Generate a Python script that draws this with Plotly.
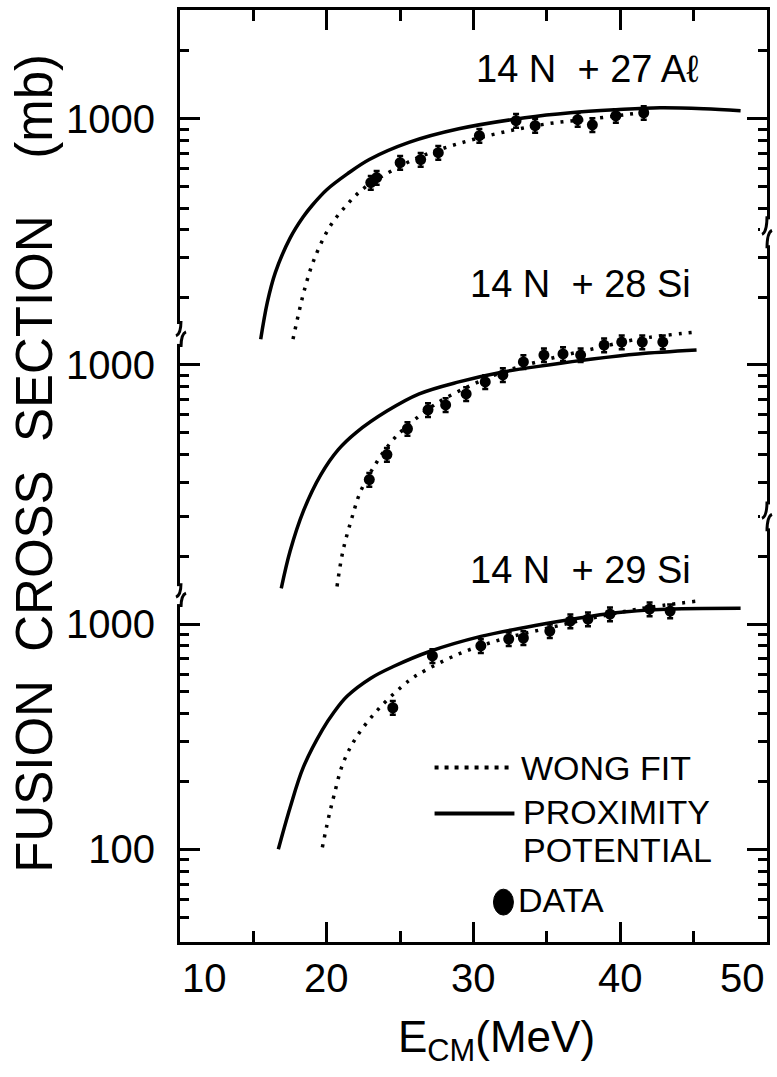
import plotly.graph_objects as go

# ---------------- data ----------------
# Each reaction is drawn on one shared log axis, shifted by a fixed number of decades
panel_labels = ["14 N  + 27 A\u2113", "14 N  + 28 Si", "14 N  + 29 Si"]
panel_offsets = [2.243, 1.150, 0.0]   # decades of vertical shift for each panel

# 14N + 27Al
al_prox_e = [15.5, 15.95, 16.5, 17.5, 18.4, 19.0, 20.0, 21.4, 22.9, 25.6, 29.0, 33.5, 36.6, 39.7, 42.7, 45.7, 48.2]
al_prox_s = [105, 153, 208, 295, 367, 412, 484, 569, 659, 785, 902, 1010, 1063, 1096, 1118, 1107, 1085]
al_wong_e = [17.7, 18.1, 18.5, 19.1, 20.2, 21.4, 22.5, 23.9, 26.3, 29.0, 32.0, 35.1, 38.1, 41.2, 42.0]
al_wong_s = [105, 138, 176, 234, 331, 417, 490, 562, 676, 776, 871, 951, 1000, 1059, 1072]
al_data_e = [23.0, 23.4, 25.0, 26.4, 27.6, 30.4, 32.9, 34.2, 37.1, 38.1, 39.7, 41.6]
al_data_s = [521, 548, 638, 659, 707, 841, 980, 931, 990, 940, 1031, 1063]

# 14N + 28Si
si28_prox_e = [16.9, 17.5, 18.4, 19.6, 20.8, 22.0, 24.1, 26.3, 29.0, 32.0, 35.1, 38.1, 41.2, 45.2]
si28_prox_s = [102, 149, 224, 326, 422, 501, 624, 744, 841, 931, 1000, 1063, 1119, 1165]
si28_wong_e = [20.7, 21.1, 21.7, 22.3, 23.3, 24.4, 25.5, 27.5, 29.9, 32.0, 35.1, 38.1, 41.2, 45.2]
si28_wong_s = [104, 149, 208, 274, 361, 456, 537, 676, 816, 931, 1063, 1177, 1303, 1400]
si28_data_e = [22.9, 24.1, 25.5, 26.9, 28.1, 29.5, 30.8, 32.0, 33.4, 34.8, 36.1, 37.3, 38.9, 40.1, 41.5, 42.9]
si28_data_s = [310, 400, 521, 632, 665, 744, 841, 903, 1031, 1107, 1119, 1107, 1226, 1264, 1264, 1264]

# 14N + 29Si
si29_prox_e = [16.7, 17.5, 18.4, 19.7, 20.5, 21.4, 23.0, 24.5, 27.1, 30.5, 33.5, 36.6, 39.7, 42.7, 48.2]
si29_prox_s = [100, 153, 231, 339, 407, 479, 575, 646, 759, 881, 966, 1047, 1122, 1161, 1175]
si29_wong_e = [19.7, 20.1, 20.5, 21.1, 22.0, 23.6, 25.6, 26.3, 29.0, 32.0, 35.1, 38.1, 41.2, 45.2]
si29_wong_s = [102, 136, 174, 240, 313, 425, 560, 601, 737, 858, 960, 1063, 1165, 1264]
si29_data_e = [24.5, 27.2, 30.5, 32.4, 33.4, 35.2, 36.6, 37.8, 39.3, 42.0, 43.4]
si29_data_s = [425, 722, 800, 858, 867, 931, 1031, 1052, 1107, 1165, 1141]

x_tick_vals = [10, 20, 30, 40, 50]
x_minor_vals = [15, 25, 35, 45]
y_major_true = [[1000], [1000], [1000, 100]]
y_major_text = [["1000"], ["1000"], ["1000", "100"]]
y_minor_true = [
    [2000, 900, 800, 700, 600, 500, 400],
    [4000, 3000, 2000, 900, 800, 700, 600, 500, 400, 300],
    [3000, 2000, 900, 800, 700, 600, 500, 400, 300, 200, 90, 80, 70, 60, 50],
]

# ---------------- figure ----------------
W, H = 777, 1077
ML, MR, MT, MB = 180, 9, 7, 135
PW, PH = W - ML - MR, H - MT - MB
FONT = "Liberation Sans, Arial, sans-serif"
INK = "black"
NB = "\u00a0"


def px(xp):
    return (xp - ML) / PW


def py(yp):
    return (H - MB - yp) / PH


def shift(vals, off):
    return [v * 10 ** off for v in vals]


panels = [
    (al_prox_e, al_prox_s, al_wong_e, al_wong_s, al_data_e, al_data_s),
    (si28_prox_e, si28_prox_s, si28_wong_e, si28_wong_s, si28_data_e, si28_data_s),
    (si29_prox_e, si29_prox_s, si29_wong_e, si29_wong_s, si29_data_e, si29_data_s),
]

fig = go.Figure()
for (pe, ps, we, ws, de, ds), off, lab in zip(panels, panel_offsets, panel_labels):
    fig.add_trace(go.Scatter(x=pe, y=shift(ps, off), mode="lines", name="PROXIMITY POTENTIAL",
                             line=dict(color=INK, width=3.5, shape="spline", smoothing=1.0),
                             showlegend=False, hoverinfo="skip"))
    fig.add_trace(go.Scatter(x=we, y=shift(ws, off), mode="lines", name="WONG FIT",
                             line=dict(color=INK, width=3.5, dash="3px,7px", shape="spline", smoothing=1.0),
                             showlegend=False, hoverinfo="skip"))
    fig.add_trace(go.Scatter(x=de, y=shift(ds, off), mode="markers", name="DATA",
                             marker=dict(color=INK, size=11, symbol="circle"),
                             error_y=dict(type="percent", value=7, color=INK, thickness=2.5, width=3),
                             showlegend=False))

major_vals, major_text, minor_vals = [], [], []
for off, mv, mt, mn in zip(panel_offsets, y_major_true, y_major_text, y_minor_true):
    major_vals += shift(mv, off)
    major_text += mt
    minor_vals += shift(mn, off)

fig.update_xaxes(range=[10, 50], showline=True, linewidth=3, linecolor=INK, mirror="ticks",
                 ticks="inside", ticklen=20, tickwidth=2.5, tickcolor=INK,
                 tickmode="array", tickvals=x_tick_vals, showticklabels=False,
                 minor=dict(tickmode="array", tickvals=x_minor_vals, ticks="inside", ticklen=11,
                            tickwidth=2.5, tickcolor=INK),
                 showgrid=False, zeroline=False)
fig.update_yaxes(type="log", range=[1.5885, 5.7257], showline=True, linewidth=3, linecolor=INK,
                 mirror="ticks", ticks="inside", ticklen=20, tickwidth=2.5, tickcolor=INK,
                 tickmode="array", tickvals=major_vals, ticktext=major_text,
                 tickfont=dict(family=FONT, size=40, color=INK), ticklabelstandoff=14,
                 minor=dict(tickmode="array", tickvals=minor_vals, ticks="inside", ticklen=9,
                            tickwidth=2.5, tickcolor=INK),
                 showgrid=False, zeroline=False)

annotations = []
# x tick labels
for v in x_tick_vals:
    anchor = "left" if v == x_tick_vals[0] else ("right" if v == x_tick_vals[-1] else "center")
    annotations.append(dict(x=v, xref="x", y=py(978), yref="paper", text=str(v), showarrow=False,
                            xanchor=anchor, yanchor="middle", font=dict(family=FONT, size=40, color=INK)))
# axis titles
annotations.append(dict(x=px(497), y=py(1040), xref="paper", yref="paper", showarrow=False,
                        text="E<sub>CM</sub>(MeV)", xanchor="center", yanchor="middle",
                        font=dict(family=FONT, size=44, color=INK)))
annotations.append(dict(x=px(34), y=py(462), xref="paper", yref="paper", showarrow=False,
                        text="FUSION" + NB * 2 + "CROSS" + NB * 2 + "SECTION" + NB * 4 + "(mb)",
                        textangle=-90, xanchor="center", yanchor="middle",
                        font=dict(family=FONT, size=51, color=INK)))
# panel labels
for lab, (xc, yc) in zip(panel_labels, [(588, 66), (581, 282), (581, 569)]):
    annotations.append(dict(x=px(xc), y=py(yc), xref="paper", yref="paper", showarrow=False,
                            text=lab.replace("  ", NB * 2), xanchor="center", yanchor="middle",
                            font=dict(family=FONT, size=38, color=INK)))
# legend texts
for txt, (xl, yc) in zip(["WONG FIT", "PROXIMITY", "POTENTIAL", "DATA"],
                         [(520, 767), (522, 812), (522, 850), (517, 900)]):
    annotations.append(dict(x=px(xl), y=py(yc), xref="paper", yref="paper", showarrow=False,
                            text=txt, xanchor="left", yanchor="middle",
                            font=dict(family=FONT, size=34, color=INK)))

shapes = []
# legend samples
shapes.append(dict(type="line", xref="paper", yref="paper", x0=px(435), x1=px(511), y0=py(767), y1=py(767),
                   line=dict(color=INK, width=4, dash="4px,6px")))
shapes.append(dict(type="line", xref="paper", yref="paper", x0=px(435), x1=px(515), y0=py(813), y1=py(813),
                   line=dict(color=INK, width=4)))
shapes.append(dict(type="circle", xref="paper", yref="paper", x0=px(494), x1=px(514), y0=py(889), y1=py(915),
                   fillcolor=INK, line=dict(color=INK, width=1)))


# axis break marks
def brk(xa, y1, y2):
    out = [dict(type="rect", xref="paper", yref="paper", x0=px(xa - 7), x1=px(xa + 7),
                y0=py(y1), y1=py(y2), fillcolor="white", line=dict(width=0), layer="above")]
    ym = (y1 + y2) / 2
    p1 = f"M {px(xa)},{py(y1 - 3)} Q {px(xa)},{py(ym)} {px(xa - 5)},{py(ym + 2)}"
    p2 = f"M {px(xa + 5)},{py(ym - 2)} Q {px(xa)},{py(ym)} {px(xa)},{py(y2 + 3)}"
    for p in (p1, p2):
        out.append(dict(type="path", xref="paper", yref="paper", path=p,
                        line=dict(color=INK, width=3), layer="above"))
    return out


for xa, y1, y2 in [(ML + 1, 322, 342), (ML + 1, 585, 603), (ML + PW, 217, 243), (ML + PW, 503, 527)]:
    shapes += brk(xa, y1, y2)

fig.update_layout(width=W, height=H, margin=dict(l=ML, r=MR, t=MT, b=MB, pad=0),
                  plot_bgcolor="white", paper_bgcolor="white", showlegend=False,
                  annotations=annotations, shapes=shapes)

fig.write_html("out.html")
